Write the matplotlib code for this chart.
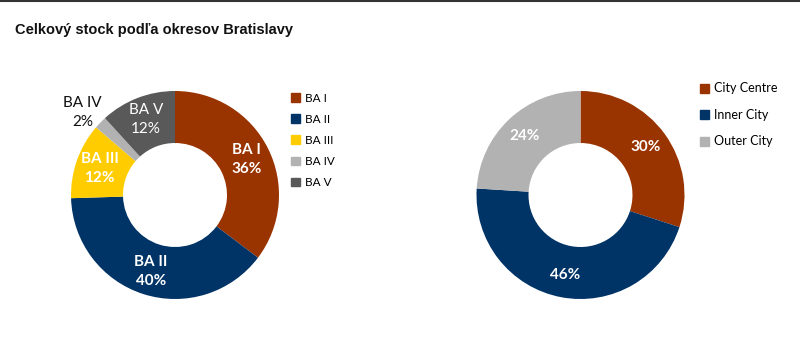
import numpy as np
import matplotlib
matplotlib.use("Agg")
import matplotlib.pyplot as plt
from matplotlib.lines import Line2D

# data
districts = ["BA I", "BA II", "BA III", "BA IV", "BA V"]
district_share = [36, 40, 12, 2, 12]
district_colors = ["#993300", "#003366", "#FFCC00", "#B2B2B2", "#595959"]

zones = ["City Centre", "Inner City", "Outer City"]
zone_share = [30, 46, 24]
zone_colors = ["#993300", "#003366", "#B2B2B2"]

title = "Celkový stock podľa okresov Bratislavy"

W, H = 800, 362
fig = plt.figure(figsize=(W / 100, H / 100), dpi=100)
fig.patch.set_facecolor("white")

# top border line
fig.add_artist(Line2D([0, 1], [0.997, 0.997], color="#333333", lw=1.5, transform=fig.transFigure))

fig.text(15 / W, 1 - 30 / H, title, fontsize=10.5, fontweight="bold",
         family="Liberation Sans", va="center", ha="left", color="#111111")


def donut_axes(cx, cy, r):
    return fig.add_axes([(cx - r) / W, (H - cy - r) / H, 2 * r / W, 2 * r / H])


def mid_angles(vals):
    vals = np.asarray(vals, dtype=float)
    frac = vals / vals.sum()
    ends = np.cumsum(frac)
    mids = ends - frac / 2
    return np.deg2rad(90 - 360 * mids)


# left donut
ax1 = donut_axes(175, 195, 104)
ax1.pie(district_share, colors=district_colors, startangle=90, counterclock=False,
        radius=1, wedgeprops=dict(width=0.5, edgecolor="none"))
ax1.set_xlim(-1, 1)
ax1.set_ylim(-1, 1)
for name, val, ang in zip(districts, district_share, mid_angles(district_share)):
    if val < 5:
        r, col, wt = 1.19, "#111111", "normal"
        ang = ang + 0.04
    elif name == "BA V":
        r, col, wt = 0.78, "white", "normal"
    else:
        r, col, wt = 0.77, "white", "bold"
    ax1.text(r * np.cos(ang), r * np.sin(ang), f"{name}\n{val}%", ha="center", va="center",
             color=col, fontsize=11, fontweight=wt, family="Lato", linespacing=1.4,
             clip_on=False)

h1 = [plt.Rectangle((0, 0), 1, 1, color=c) for c in district_colors]
ax1.legend(h1, districts, loc="upper left", bbox_to_anchor=(1.035, 1.015), frameon=False,
           handlelength=0.75, handleheight=0.75, handletextpad=0.4, labelspacing=0.86,
           prop=dict(family="Lato", size=8.5), borderaxespad=0)

# right donut
ax2 = donut_axes(580.5, 195, 104)
ax2.pie(zone_share, colors=zone_colors, startangle=90, counterclock=False,
        radius=1, wedgeprops=dict(width=0.5, edgecolor="none"))
ax2.set_xlim(-1, 1)
ax2.set_ylim(-1, 1)
for name, val, ang in zip(zones, zone_share, mid_angles(zone_share)):
    ax2.text(0.78 * np.cos(ang), 0.78 * np.sin(ang), f"{val}%", ha="center", va="center",
             color="white", fontsize=11, fontweight="bold", family="Lato")

h2 = [plt.Rectangle((0, 0), 1, 1, color=c) for c in zone_colors]
ax2.legend(h2, zones, loc="upper left", bbox_to_anchor=(1.05, 1.065), frameon=False,
           handlelength=0.75, handleheight=0.75, handletextpad=0.4, labelspacing=1.16,
           prop=dict(family="Lato", size=9), borderaxespad=0)

fig.savefig("out.png", dpi=100)
